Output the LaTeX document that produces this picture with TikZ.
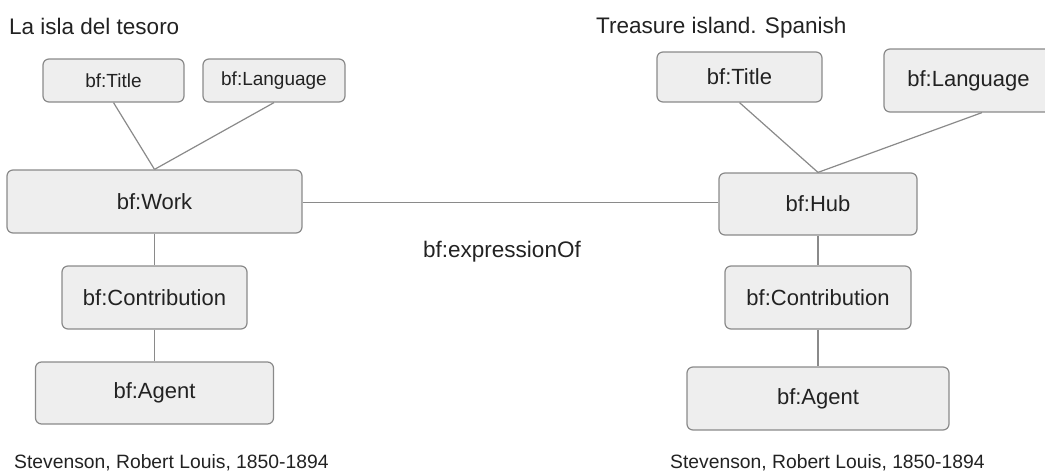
\documentclass[tikz,border=0pt]{standalone}
\usepackage{fontspec}
\setmainfont{Liberation Sans}
\usetikzlibrary{calc}
\definecolor{boxfill}{HTML}{EEEEEE}
\definecolor{boxline}{HTML}{8A8A8A}
\definecolor{txt}{HTML}{222222}
\tikzset{
  ent/.style={draw=boxline, fill=boxfill, rounded corners=6pt, line width=1.2pt,
    inner sep=0pt, text=txt, font=\fontsize{22}{26}\selectfont},
  entsmall/.style={ent, font=\fontsize{19}{23}\selectfont},
  conn/.style={draw=boxline, line width=1.2pt},
  lbl/.style={inner sep=0pt, text=txt, anchor=base west},
}
\begin{document}
\begin{tikzpicture}[x=1pt,y=-1pt]
\useasboundingbox (0,0) rectangle (1045,472);
% left side
\node[entsmall, minimum width=141pt, minimum height=43pt] (lt) at (113.5,80.5) {bf:Title};
\node[entsmall, minimum width=142pt, minimum height=43pt] (ll) at (274,80.5) {bf:Language};
\node[ent, minimum width=295pt, minimum height=63pt] (work) at (154.5,201.5) {bf:Work};
\node[ent, minimum width=185pt, minimum height=63pt] (lc) at (154.5,297.5) {bf:Contribution};
\node[ent, minimum width=238pt, minimum height=62pt] (la) at (154.5,393) {bf:Agent};
% right side
\node[ent, minimum width=165pt, minimum height=50pt] (rt) at (739.5,77) {bf:Title};
\node[ent, minimum width=169pt, minimum height=63pt] (rl) at (968.5,80.5) {bf:Language};
\node[ent, minimum width=198pt, minimum height=62pt] (hub) at (818,204) {bf:Hub};
\node[ent, minimum width=186pt, minimum height=63pt] (rc) at (818,297.5) {bf:Contribution};
\node[ent, minimum width=262pt, minimum height=63pt] (ra) at (818,398.5) {bf:Agent};
% texts
\node[lbl, font=\fontsize{22.5}{27}\selectfont] (t1) at (9,34) {La isla del tesoro};
\node[lbl, font=\fontsize{22.5}{27}\selectfont] (t2) at (596,33) {Treasure island. Spanish};
\node[lbl, font=\fontsize{22.5}{27}\selectfont] (eo) at (423,257) {bf:expressionOf};
\node[lbl, font=\fontsize{19.3}{23}\selectfont] (c1) at (14,468) {Stevenson, Robert Louis, 1850-1894};
\node[lbl, font=\fontsize{19.3}{23}\selectfont] (c2) at (670,468) {Stevenson, Robert Louis, 1850-1894};
% connectors
\coordinate (rlfoot) at ($(rl.south)+(13.5,0)$);
\coordinate (we) at ($(work.east)+(0,1)$);
\draw[conn] (lt.south) -- (work.north);
\draw[conn] (ll.south) -- (work.north);
\draw[conn] (work.south) -- (lc.north);
\draw[conn] (lc.south) -- (la.north);
\draw[conn] (rt.south) -- (hub.north);
\draw[conn] (rlfoot) -- (hub.north);
\draw[conn] (hub.south) -- (rc.north);
\draw[conn] (rc.south) -- (ra.north);
\draw[conn] (we) -- (we -| hub.west);
\end{tikzpicture}
\end{document}
